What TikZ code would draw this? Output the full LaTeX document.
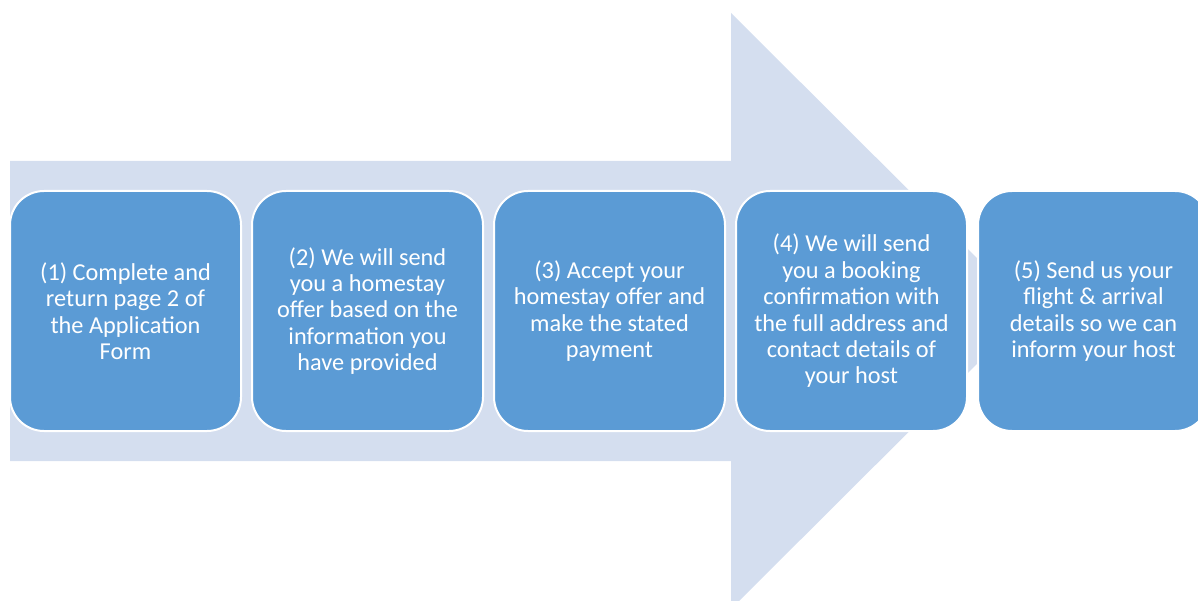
\documentclass[tikz,border=0pt]{standalone}
\usepackage{fontspec}
\setmainfont{Carlito}
\definecolor{arrowfill}{HTML}{D4DEEF}
\definecolor{boxfill}{HTML}{5B9BD5}
\begin{document}
\begin{tikzpicture}[x=1pt,y=-1pt,
  stepbox/.style={rectangle, rounded corners=34pt, fill=boxfill, draw=white, line width=2pt,
    minimum width=231pt, minimum height=240pt, inner sep=0pt, text=white, align=center,
    font=\fontsize{24.3}{26.4}\selectfont}]
\useasboundingbox (0,0) rectangle (1198,601);
\clip (0,0) rectangle (1198,601);
\fill[arrowfill] (10,161) -- (731,161) -- (731,13) -- (1030,311) -- (731,609) -- (731,461) -- (10,461) -- cycle;
\node[stepbox] (s1) at (125.5,311) {(1) Complete and\\return page 2 of\\the Application\\Form};
\node[stepbox] (s2) at (367.5,311) {(2) We will send\\you a homestay\\offer based on the\\information you\\have provided};
\node[stepbox] (s3) at (609.5,311) {(3) Accept your\\homestay offer and\\make the stated\\payment};
\node[stepbox] (s4) at (851.5,311) {(4) We will send\\you a booking\\confirmation with\\the full address and\\contact details of\\your host};
\node[stepbox] (s5) at (1093.5,311) {(5) Send us your\\flight \& arrival\\details so we can\\inform your host};
\end{tikzpicture}
\end{document}
